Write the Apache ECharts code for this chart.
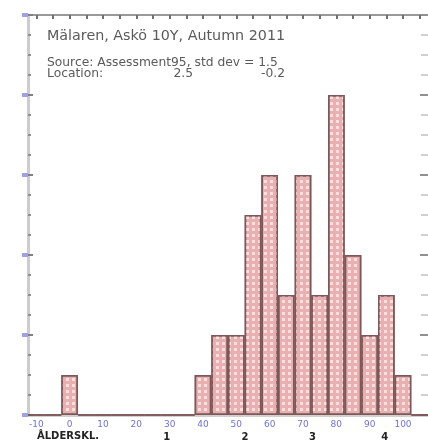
<!DOCTYPE html>
<html>
<head>
<meta charset="utf-8">
<script src="https://cdn.jsdelivr.net/npm/echarts@6/dist/echarts.min.js"></script>
<style>html,body{margin:0;padding:0;background:#fff;}#c{width:428px;height:447px;}</style>
</head>
<body>
<div id="c"></div>
<script>
var categories = ['-10','-5','0','5','10','15','20','25','30','35','40','45','50','55','60','65','70','75','80','85','90','95','100','105'];
var counts = [0,0,1,0,0,0,0,0,0,0,1,2,2,5,6,3,6,3,8,4,2,3,1,0];
var ageLabels = ['1','2','3','4'];
var agePositions = [8.25, 12.9, 16.9, 21.2];
var titleLine = 'Mälaren, Askö 10Y, Autumn 2011';
var infoLine = 'Source: Assessment95, std dev = 1.5';
var locLabel = 'Location:';
var locValues = ['2.5', '-0.2'];
var ageTitle = 'ÅLDERSKL.';

var chart = echarts.init(document.getElementById('c'));
var grid = {left: 28, top: 15, width: 404, height: 400};
var txt = {fill: '#5a5a5a', fontSize: 12.3, fontFamily: 'DejaVu Sans'};
chart.setOption({
  animation: false,
  grid: grid,
  xAxis: [
    {type: 'category', data: categories, position: 'bottom', boundaryGap: true,
     axisLine: {onZero: false, lineStyle: {color: '#d0d0d0', width: 3}},
     axisTick: {inside: true, alignWithLabel: true, interval: 0, length: 4, lineStyle: {color: '#909090', width: 2}},
     axisLabel: {interval: 1, color: '#7070d8', fontSize: 9, margin: 5, fontFamily: 'DejaVu Sans'},
     splitLine: {show: false}},
    {type: 'category', data: categories, position: 'top', boundaryGap: true,
     axisLine: {show: true, onZero: false, lineStyle: {color: '#999', width: 2}},
     axisTick: {show: true, inside: true, alignWithLabel: true, interval: 0, length: 4, lineStyle: {color: '#707070', width: 2}},
     axisLabel: {show: false}, splitLine: {show: false}}
  ],
  yAxis: [
    {type: 'value', min: 0, max: 10, interval: 2, position: 'left',
     axisLine: {show: true, onZero: false, lineStyle: {color: '#cccccc', width: 3}},
     axisTick: {show: true, inside: true, length: 5, lineStyle: {color: '#808080', width: 2}},
     minorTick: {show: true, splitNumber: 4, length: 3, lineStyle: {color: '#909090', width: 2}},
     axisLabel: {show: false}, splitLine: {show: false}, minorSplitLine: {show: false}},
    {type: 'value', min: 0, max: 10, interval: 2, position: 'left',
     axisLine: {show: false, onZero: false},
     axisTick: {show: true, inside: false, length: 6, lineStyle: {color: '#a0a0e4', width: 4}},
     axisLabel: {show: false}, splitLine: {show: false}},
    {type: 'value', min: 0, max: 10, interval: 2, position: 'right',
     axisLine: {show: false, onZero: false},
     axisTick: {show: true, inside: true, length: 8, lineStyle: {color: '#909090', width: 2}},
     minorTick: {show: true, splitNumber: 4, length: 7, lineStyle: {color: '#d0d0d0', width: 2}},
     axisLabel: {show: false}, splitLine: {show: false}}
  ],
  series: [{
    type: 'bar', data: counts, xAxisIndex: 0, yAxisIndex: 0,
    barCategoryGap: '0%',
    itemStyle: {color: '#e8b0b0', borderColor: '#7d5858', borderWidth: 1.5,
      decal: {symbol: 'rect', symbolSize: 1, dashArrayX: [3, 3], dashArrayY: [3, 3], color: 'rgba(255,232,232,0.85)'}}
  }, {
    type: 'line', data: counts, xAxisIndex: 1, yAxisIndex: 1, silent: true,
    showSymbol: false, lineStyle: {opacity: 0}
  }, {
    type: 'line', data: counts, xAxisIndex: 1, yAxisIndex: 2, silent: true,
    showSymbol: false, lineStyle: {opacity: 0}
  }],
  graphic: [
    {id: 't1', type: 'text', left: 47, top: 29, style: {text: titleLine, fill: '#5a5a5a', fontSize: 14.3, fontFamily: 'DejaVu Sans'}},
    {id: 't2', type: 'text', left: 47, top: 57, style: Object.assign({text: infoLine}, txt)},
    {id: 't3', type: 'text', left: 47, top: 68, style: Object.assign({text: locLabel}, txt)},
    {id: 't4', type: 'text', right: 428 - 193, top: 68, style: Object.assign({text: locValues[0]}, txt)},
    {id: 't5', type: 'text', right: 428 - 285, top: 68, style: Object.assign({text: locValues[1]}, txt)},
    {id: 't6', type: 'text', left: 37, top: 431, style: {text: ageTitle, fill: '#222', fontSize: 10, fontWeight: 'bold', fontFamily: 'DejaVu Sans'}}
  ]
});
// age-class labels placed through the category axis scale
var binW = grid.width / categories.length;
var x0 = chart.convertToPixel({xAxisIndex: 0}, categories[0]) - binW / 2;
var ageGraphics = ageLabels.map(function (t, i) {
  return {id: 'age' + i, type: 'text', x: x0 + agePositions[i] * binW, y: 437,
    style: {text: t, fill: '#222', fontSize: 10, fontWeight: 'bold', fontFamily: 'DejaVu Sans', align: 'center', verticalAlign: 'middle'}};
});
chart.setOption({graphic: ageGraphics});
</script>
</body>
</html>
